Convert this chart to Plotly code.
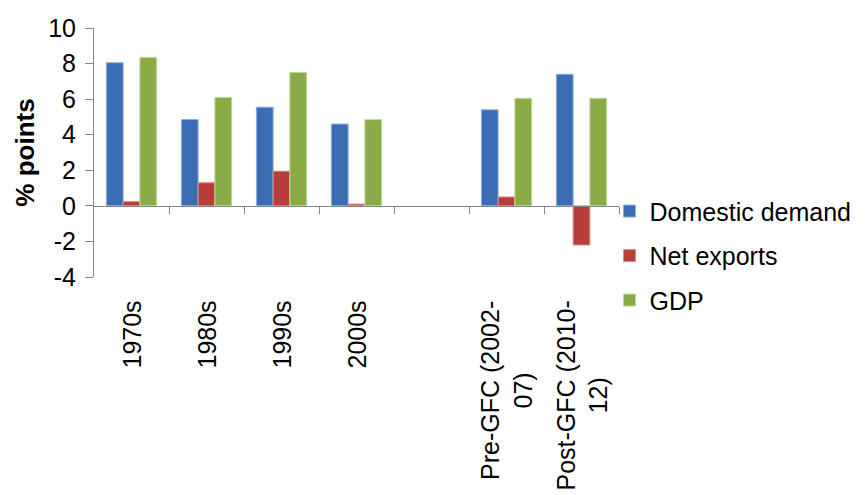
import plotly.graph_objects as go

# Contributions to growth, percentage points
periods = ["1970s", "1980s", "1990s", "2000s", "",
           "Pre-GFC (2002-<br>07)", "Post-GFC (2010-<br>12)"]
domestic_demand = [8.05, 4.85, 5.55, 4.6, None, 5.4, 7.4]
net_exports = [0.25, 1.3, 1.95, 0.1, None, 0.5, -2.2]
gdp = [8.35, 6.1, 7.5, 4.85, None, 6.05, 6.05]
y_ticks = [-4, -2, 0, 2, 4, 6, 8, 10]

x_pos = list(range(len(periods)))
font_family = "Liberation Sans, Arial, sans-serif"
axis_grey = "#868686"

series = [
    ("Domestic demand", domestic_demand, "#3A6DB3", "#8FB0DC"),
    ("Net exports", net_exports, "#B83E3B", "#DC8F8C"),
    ("GDP", gdp, "#8AAC47", "#C2D89A"),
]

fig = go.Figure()
for name, vals, col, edge in series:
    fig.add_trace(go.Bar(
        x=x_pos, y=vals, name=name, legendgroup=name,
        marker=dict(color=col, line=dict(color=edge, width=1)),
    ))

y_min, y_max = y_ticks[0], y_ticks[-1]
zero_frac = (0 - y_min) / (y_max - y_min)

fig.update_layout(
    width=866, height=495,
    margin=dict(l=94, r=247, t=28, b=218, autoexpand=False),
    plot_bgcolor="white", paper_bgcolor="white",
    barmode="group", bargap=0.33, bargroupgap=0,
    font=dict(family=font_family, size=25, color="black"),
    showlegend=True,
    legend=dict(
        x=0.982, xanchor="left", y=0.085, yanchor="middle",
        font=dict(size=25), tracegroupgap=9,
        bgcolor="rgba(0,0,0,0)",
    ),
    # Category axis drawn along the zero line, ticks between groups
    xaxis=dict(
        range=[-0.5, len(periods) - 0.5],
        anchor="free", position=zero_frac,
        showline=True, linecolor=axis_grey, linewidth=1,
        ticks="outside", ticklen=7, tickcolor=axis_grey,
        tickvals=[i + 0.5 for i in x_pos],
        showticklabels=False, showgrid=False, zeroline=False,
    ),
    yaxis=dict(
        range=[y_min, y_max],
        tickvals=y_ticks, ticktext=[str(v) for v in y_ticks],
        showline=True, linecolor=axis_grey, linewidth=1,
        ticks="outside", ticklen=8, tickcolor=axis_grey,
        ticklabelstandoff=4,
        showgrid=False, zeroline=False,
        tickfont=dict(size=25),
        title=dict(text="<b>% points</b>", font=dict(size=26), standoff=6),
    ),
)

# Category labels hanging below the plot area, rotated and centred per line
for xi, label in zip(x_pos, periods):
    if not label:
        continue
    fig.add_annotation(
        x=xi, xref="x", y=0, yref="paper",
        text=label, textangle=-90, align="center",
        xanchor="center", yanchor="top", yshift=-22,
        showarrow=False, font=dict(size=25),
    )

fig.write_html("out.html")
